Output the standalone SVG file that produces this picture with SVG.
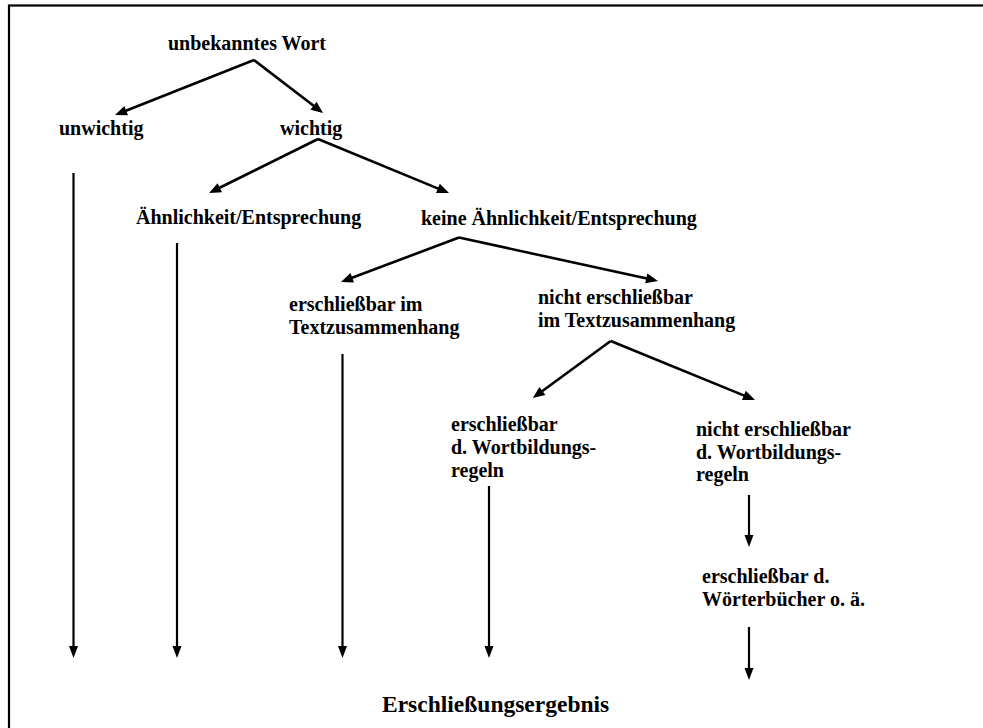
<svg xmlns="http://www.w3.org/2000/svg" width="983" height="728" viewBox="0 0 983 728">
<defs>
<style>
text{font-family:"Liberation Serif","Times New Roman",serif;font-weight:bold;font-size:20px;fill:#000}
.big{font-size:23.5px}
.c line{stroke:#000;stroke-width:2.6;fill:none;marker-end:url(#ah)}
.c line.v{stroke-width:2.2;marker-end:url(#av)}
</style>
<marker id="ah" markerUnits="userSpaceOnUse" markerWidth="14" markerHeight="12" refX="3" refY="5" orient="auto" overflow="visible">
<path d="M0,0 L12,5 L0,10 Z" fill="#000"/>
</marker>
<marker id="av" markerUnits="userSpaceOnUse" markerWidth="14" markerHeight="12" refX="3" refY="4.5" orient="auto" overflow="visible">
<path d="M0,0 L12,4.5 L0,9 Z" fill="#000"/>
</marker>
</defs>
<rect x="0" y="0" width="983" height="728" fill="#fff"/>
<rect x="9" y="5.5" width="1000" height="800" fill="none" stroke="#000" stroke-width="2.2"/>
<g id="n-unbekannt"><text x="168" y="50">unbekanntes Wort</text></g>
<g id="n-unwichtig"><text x="59" y="134.5">unwichtig</text></g>
<g id="n-wichtig"><text x="280" y="134.5">wichtig</text></g>
<g id="n-aehnlich"><text x="136" y="224">Ähnlichkeit/Entsprechung</text></g>
<g id="n-keine"><text x="421" y="225">keine Ähnlichkeit/Entsprechung</text></g>
<g id="n-erschl-text"><text x="289" y="310.5">erschließbar im</text><text x="289" y="333.5">Textzusammenhang</text></g>
<g id="n-nicht-text"><text x="538" y="303.5">nicht erschließbar</text><text x="538" y="326.5">im Textzusammenhang</text></g>
<g id="n-erschl-wb"><text x="451" y="431">erschließbar</text><text x="451" y="454">d. Wortbildungs-</text><text x="451" y="476.5">regeln</text></g>
<g id="n-nicht-wb"><text x="696" y="436">nicht erschließbar</text><text x="696" y="458.5">d. Wortbildungs-</text><text x="696" y="481">regeln</text></g>
<g id="n-woerterbuch"><text x="702" y="582.5">erschließbar d.</text><text x="702" y="605.5">Wörterbücher o. ä.</text></g>
<g id="n-ergebnis"><text class="big" x="382" y="711.5">Erschließungsergebnis</text></g>
<g id="connectors" class="c">
<line x1="254" y1="60" x2="123.4" y2="111.7"/>
<line x1="254" y1="60" x2="315.9" y2="107.5"/>
<line x1="318" y1="139" x2="217.1" y2="189"/>
<line x1="318" y1="139" x2="440.7" y2="189.6"/>
<line x1="459" y1="237.5" x2="349.4" y2="278.8"/>
<line x1="459" y1="237.5" x2="649.2" y2="279.1"/>
<line x1="610.7" y1="341" x2="540" y2="392.7"/>
<line x1="610.7" y1="341" x2="746.7" y2="396.6"/>
<line class="v" x1="73.5" y1="173" x2="73.5" y2="649"/>
<line class="v" x1="177" y1="243" x2="177" y2="649"/>
<line class="v" x1="342.5" y1="354" x2="342.5" y2="649"/>
<line class="v" x1="489" y1="486" x2="489" y2="649"/>
<line class="v" x1="749" y1="495" x2="749" y2="538"/>
<line class="v" x1="749" y1="627" x2="749" y2="671"/>
</g>
</svg>
